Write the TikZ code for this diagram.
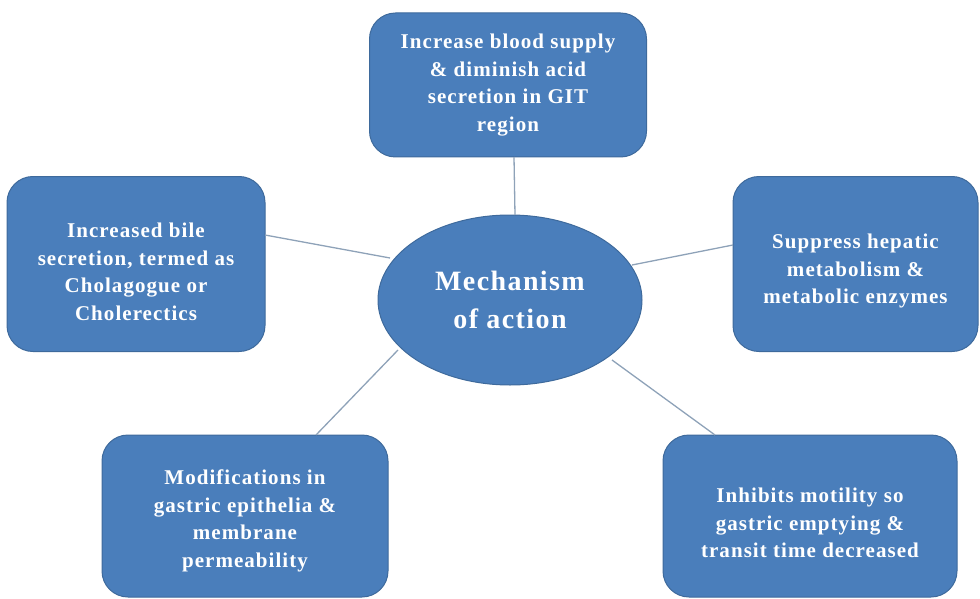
\documentclass[tikz,border=0pt]{standalone}
\usepackage{fontspec}
\setmainfont{Liberation Serif}
\usetikzlibrary{shapes.geometric}
\definecolor{boxfill}{HTML}{4A7EBB}
\definecolor{boxline}{HTML}{3E6A9C}
\definecolor{linkcol}{HTML}{8EA2B8}
\tikzset{
  card/.style={draw=boxline, line width=1pt, fill=boxfill, rounded corners=26pt, inner sep=0pt},
  cardtext/.style={text=white, align=center, inner sep=0pt,
    font=\bfseries\fontsize{21}{27.5}\selectfont\addfontfeatures{LetterSpace=5}},
  hub/.style={ellipse, draw=boxline, line width=1pt, fill=boxfill, text=white,
    align=center, font=\bfseries\fontsize{28}{38}\selectfont\addfontfeatures{LetterSpace=5}, inner sep=0pt},
  link/.style={draw=linkcol, line width=1.3pt}
}
\begin{document}
\begin{tikzpicture}[x=1pt,y=-1pt]
\useasboundingbox (0,0) rectangle (980,599);
\node[hub, minimum width=264pt, minimum height=170pt] (c) at (510,300) {Mechanism\\of action};
\node[card, minimum width=277pt, minimum height=144pt] (t) at (508,85) {};
\node[cardtext] (tt) at (508,85) {Increase blood supply\\\& diminish acid\\secretion in GIT\\region};
\node[card, minimum width=258pt, minimum height=175pt] (l) at (136,264) {};
\node[cardtext] (lt) at (136,272) {Increased bile\\secretion, termed as\\Cholagogue or\\Cholerectics};
\node[card, minimum width=245pt, minimum height=175pt] (r) at (855.5,264) {};
\node[cardtext] (rt) at (855.5,271) {Suppress hepatic\\metabolism \&\\metabolic enzymes};
\node[card, minimum width=286pt, minimum height=162pt] (bl) at (245,516) {};
\node[cardtext] (blt) at (245,521) {Modifications in\\gastric epithelia \&\\membrane\\permeability};
\node[card, minimum width=294pt, minimum height=162pt] (br) at (810,516) {};
\node[cardtext] (brt) at (810,523) {Inhibits motility so\\gastric emptying \&\\transit time decreased};
\coordinate (ct) at (515,215);
\coordinate (cl) at (390,258);
\coordinate (cr) at (632,265);
\coordinate (cbl) at (398,350);
\coordinate (cbr) at (612,360);
\coordinate (tb) at (514,157);
\coordinate (lr) at (265,235);
\coordinate (rl) at (733,245);
\coordinate (blo) at (316,435);
\coordinate (bro) at (715,435);
\draw[link] (tb) -- (ct);
\draw[link] (lr) -- (cl);
\draw[link] (rl) -- (cr);
\draw[link] (blo) -- (cbl);
\draw[link] (bro) -- (cbr);
\end{tikzpicture}
\end{document}
